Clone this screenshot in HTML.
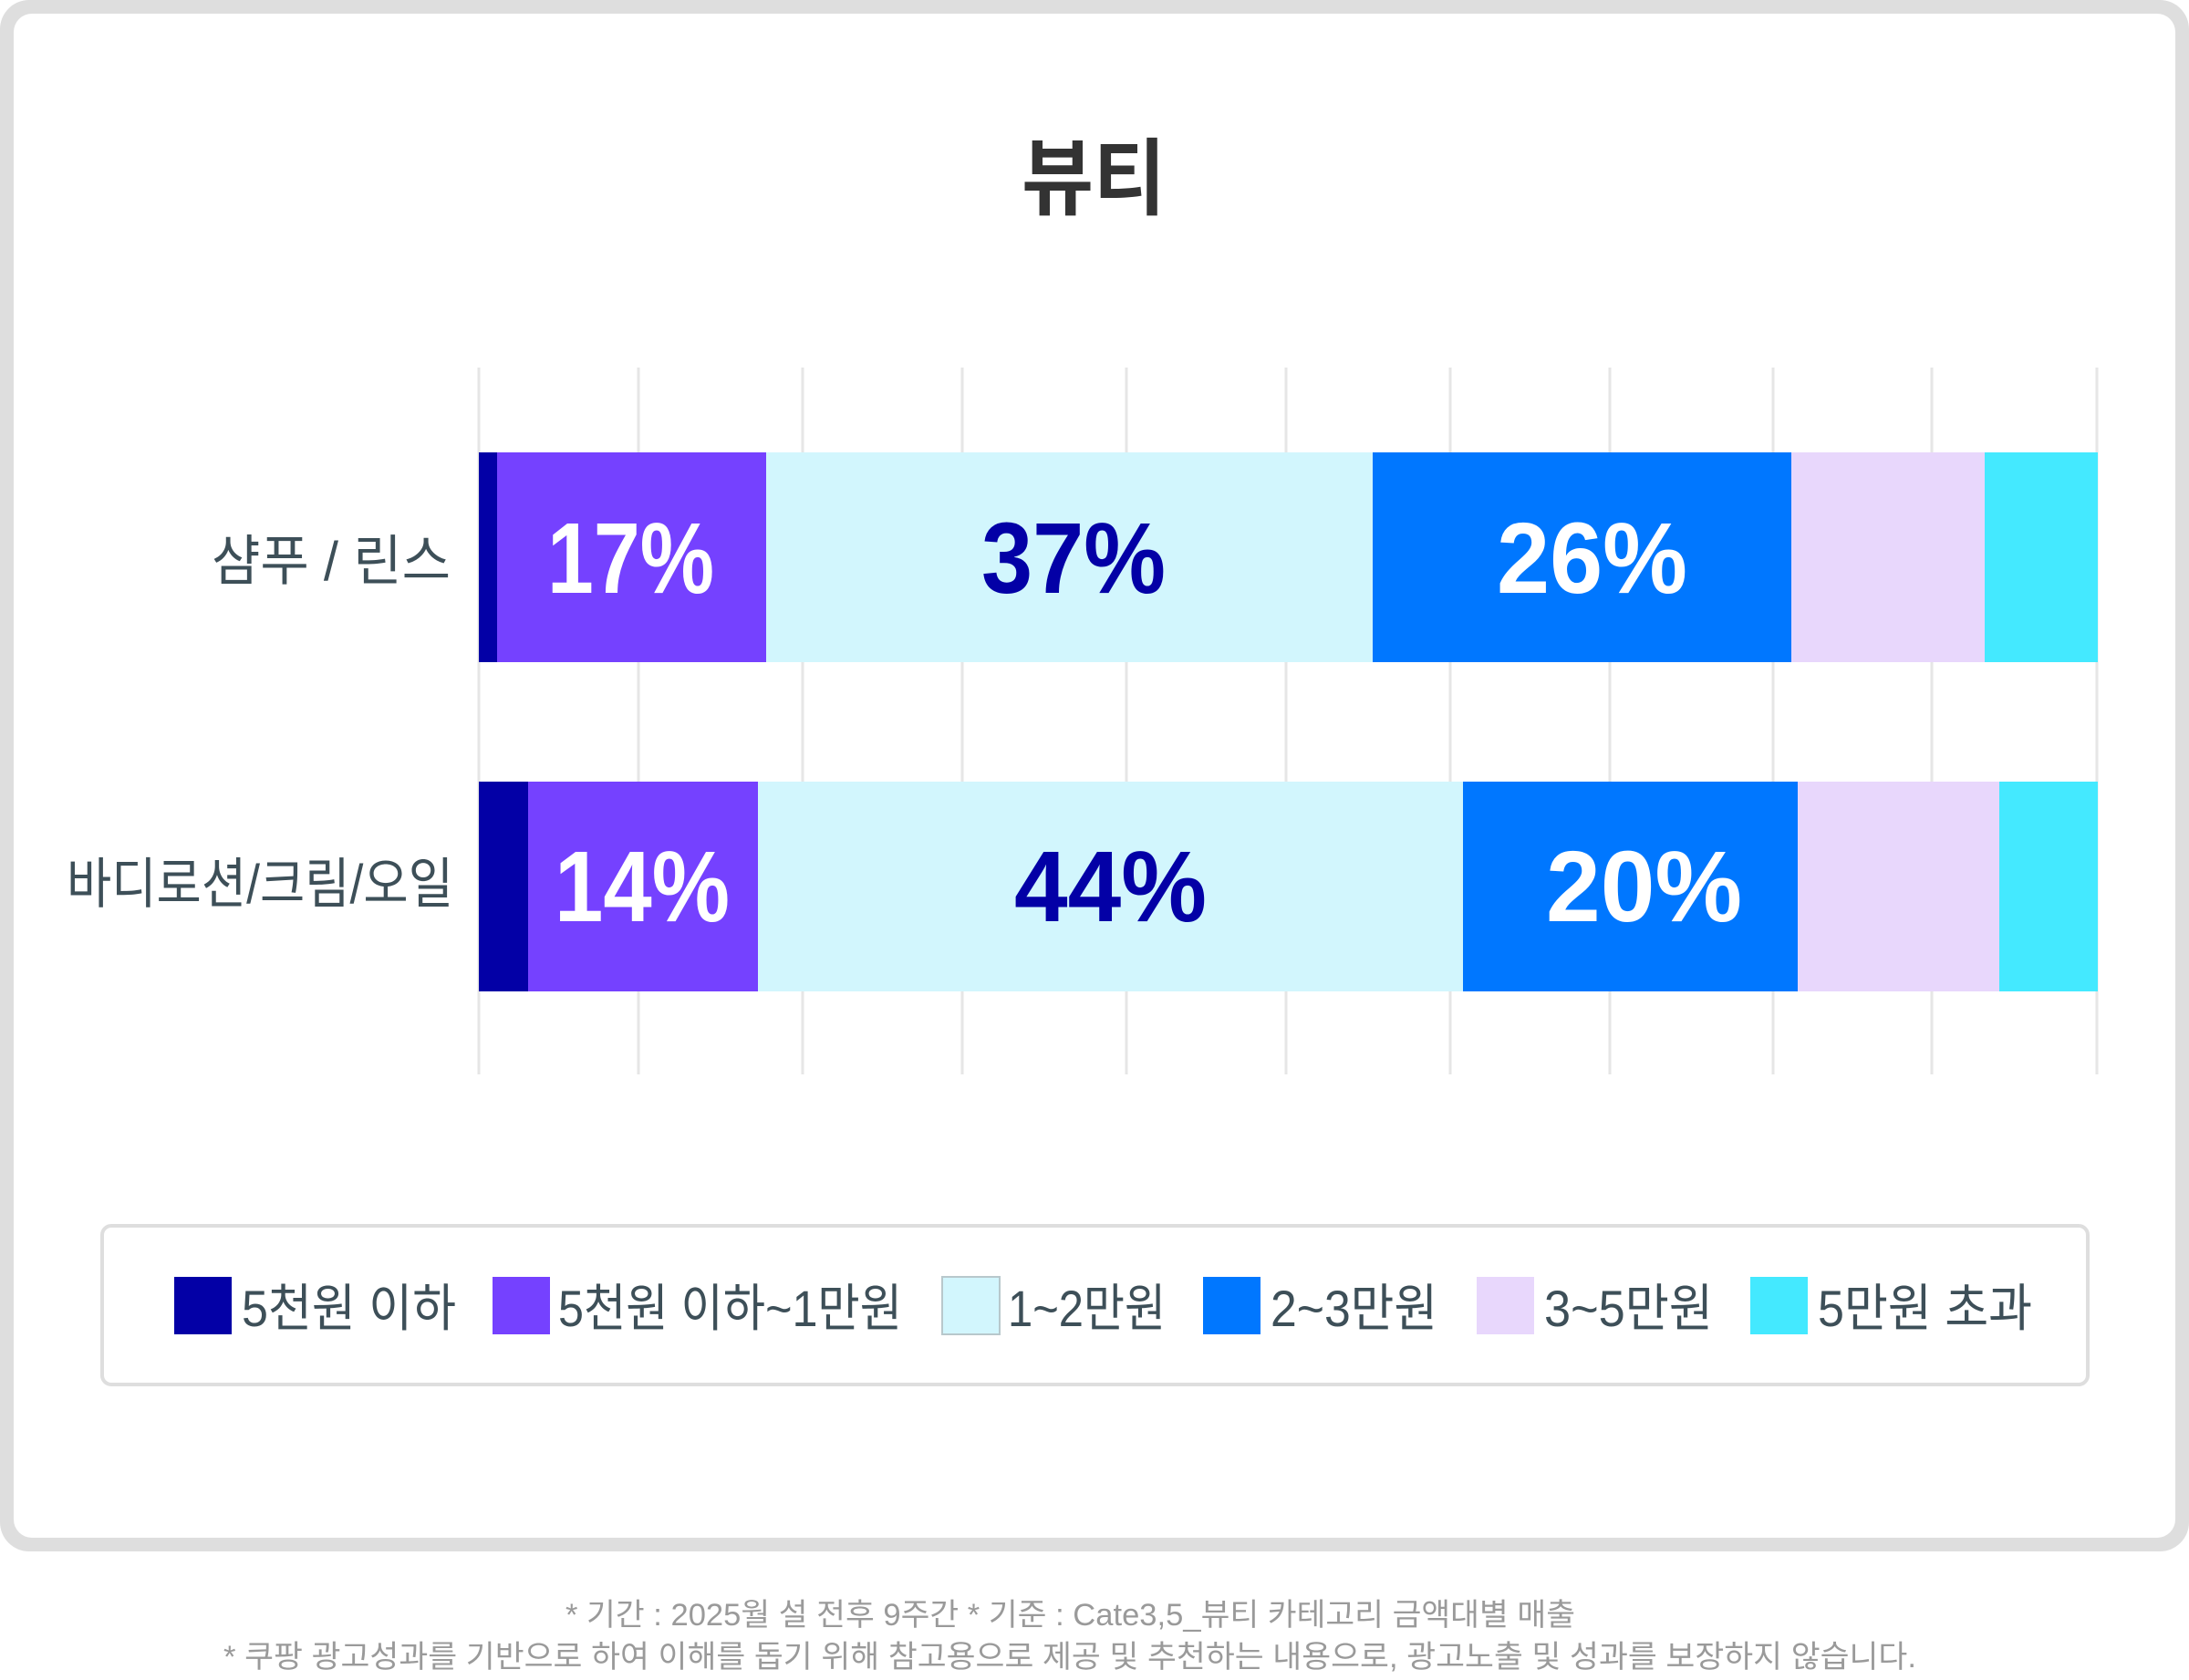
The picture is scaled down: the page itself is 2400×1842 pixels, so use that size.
<!DOCTYPE html>
<html><head><meta charset="utf-8"><style>
html,body{margin:0;padding:0;background:#fff;}
svg{display:block;}
text{font-family:"Liberation Sans","Noto Sans CJK KR",sans-serif;}
</style></head><body>
<svg width="2400" height="1842" viewBox="0 0 2400 1842" xmlns="http://www.w3.org/2000/svg">
<rect x="0" y="0" width="2400" height="1701" rx="32" fill="#dedede"/>
<rect x="15" y="15" width="2370" height="1671" rx="20" fill="#fff"/>
<text x="1199" y="228" text-anchor="middle" font-size="92" font-weight="bold" fill="#333" textLength="158" lengthAdjust="spacingAndGlyphs">뷰티</text>
<g stroke="#e6e6e6" stroke-width="3">
<line x1="525" y1="403" x2="525" y2="1178"/><line x1="700" y1="403" x2="700" y2="1178"/>
<line x1="880" y1="403" x2="880" y2="1178"/><line x1="1055" y1="403" x2="1055" y2="1178"/>
<line x1="1235" y1="403" x2="1235" y2="1178"/><line x1="1410" y1="403" x2="1410" y2="1178"/>
<line x1="1590" y1="403" x2="1590" y2="1178"/><line x1="1765" y1="403" x2="1765" y2="1178"/>
<line x1="1944" y1="403" x2="1944" y2="1178"/><line x1="2118" y1="403" x2="2118" y2="1178"/>
<line x1="2299" y1="403" x2="2299" y2="1178"/>
</g>
<rect x="525" y="496" width="20" height="230" fill="#0300a6"/>
<rect x="545" y="496" width="295" height="230" fill="#7541ff"/>
<rect x="840" y="496" width="665" height="230" fill="#d2f6fd"/>
<rect x="1505" y="496" width="459" height="230" fill="#0077ff"/>
<rect x="1964" y="496" width="212" height="230" fill="#e8d7fc"/>
<rect x="2176" y="496" width="124" height="230" fill="#44e9ff"/>
<rect x="525" y="857" width="54" height="230" fill="#0300a6"/>
<rect x="579" y="857" width="252" height="230" fill="#7541ff"/>
<rect x="831" y="857" width="773" height="230" fill="#d2f6fd"/>
<rect x="1604" y="857" width="367" height="230" fill="#0077ff"/>
<rect x="1971" y="857" width="221" height="230" fill="#e8d7fc"/>
<rect x="2192" y="857" width="108" height="230" fill="#44e9ff"/>
<g font-size="110" font-weight="bold">
<text x="600" y="650" fill="#fff" textLength="183" lengthAdjust="spacingAndGlyphs">17%</text>
<text x="1076" y="650" fill="#0300a6" textLength="202" lengthAdjust="spacingAndGlyphs">37%</text>
<text x="1641" y="650" fill="#fff" textLength="209" lengthAdjust="spacingAndGlyphs">26%</text>
<text x="608" y="1010" fill="#fff" textLength="192" lengthAdjust="spacingAndGlyphs">14%</text>
<text x="1112" y="1010" fill="#0300a6" textLength="211" lengthAdjust="spacingAndGlyphs">44%</text>
<text x="1695" y="1010" fill="#fff" textLength="215" lengthAdjust="spacingAndGlyphs">20%</text>
</g>
<g font-size="60" fill="#3d4f58">
<text x="232" y="636" textLength="262" lengthAdjust="spacingAndGlyphs">샴푸 / 린스</text>
<text x="73" y="990" textLength="424" lengthAdjust="spacingAndGlyphs">바디로션/크림/오일</text>
</g>
<rect x="112" y="1344" width="2177" height="174" rx="10" fill="#fff" stroke="#dedede" stroke-width="4"/>
<rect x="191" y="1400" width="63" height="63" fill="#0300a6"/>
<rect x="540" y="1400" width="63" height="63" fill="#7541ff"/>
<rect x="1033" y="1400" width="63" height="63" fill="#d2f6fd" stroke="#b8c8cc" stroke-width="2"/>
<rect x="1319" y="1400" width="63" height="63" fill="#0077ff"/>
<rect x="1619" y="1400" width="63" height="63" fill="#e8d7fc"/>
<rect x="1919" y="1400" width="63" height="63" fill="#44e9ff"/>
<g font-size="56" fill="#3d4f58">
<text x="265" y="1454" textLength="235" lengthAdjust="spacingAndGlyphs">5천원 이하</text>
<text x="612" y="1454" textLength="377" lengthAdjust="spacingAndGlyphs">5천원 이하~1만원</text>
<text x="1105" y="1454" textLength="173" lengthAdjust="spacingAndGlyphs">1~2만원</text>
<text x="1393" y="1454" textLength="183" lengthAdjust="spacingAndGlyphs">2~3만원</text>
<text x="1693" y="1454" textLength="185" lengthAdjust="spacingAndGlyphs">3~5만원</text>
<text x="1993" y="1454" textLength="235" lengthAdjust="spacingAndGlyphs">5만원 초과</text>
</g>
<g font-size="34" fill="#9a9a9a">
<text x="620" y="1782" textLength="1107" lengthAdjust="spacingAndGlyphs">* 기간 : 2025월 설 전후 9주간  * 기준 : Cate3,5_뷰티 카테고리 금액대별 매출</text>
<text x="245" y="1828" textLength="1856" lengthAdjust="spacingAndGlyphs">* 쿠팡 광고성과를 기반으로 하여 이해를 돕기 위해 참고용으로 제공 및 추천하는 내용으로, 광고노출 및 성과를 보장하지 않습니다.</text>
</g>
</svg>
</body></html>
